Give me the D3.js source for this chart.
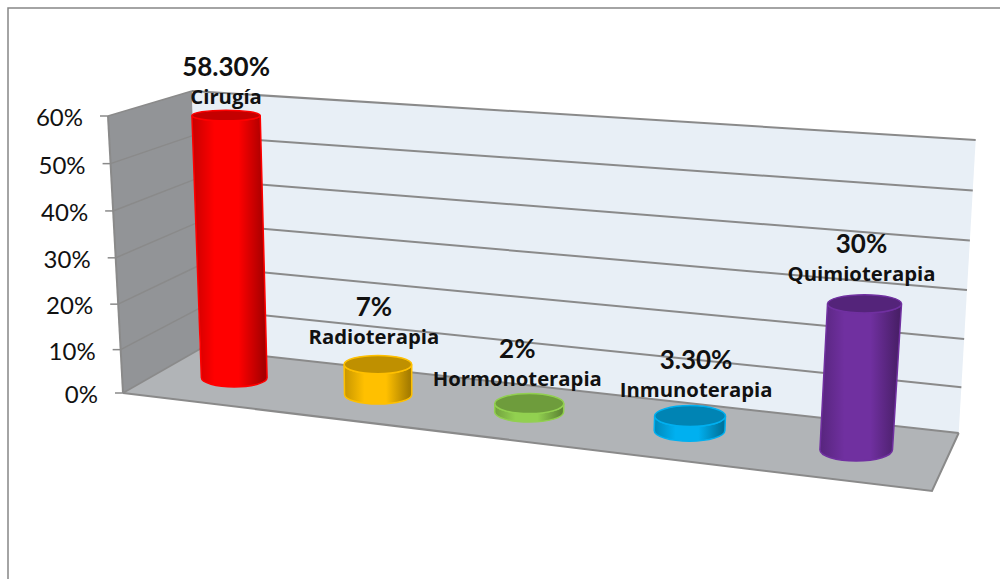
<!DOCTYPE html>
<html>
<head>
<meta charset="utf-8">
<script src="https://cdn.jsdelivr.net/npm/d3@7/dist/d3.min.js"></script>
<style>
  html, body { margin: 0; padding: 0; background: #fff; }
  svg { display: block; }
  text { fill: #111; }
  .tick-label { font: 24px "Lato", sans-serif; }
  .pct { font: 700 26px "Lato", sans-serif; }
  .name { font: 700 20.3px "Open Sans", sans-serif; }
</style>
</head>
<body>
<svg id="chart" width="1000" height="579"></svg>
<script>
// Tratamientos del cáncer: share of patients per therapy
const categories = ["Cirugía", "Radioterapia", "Hormonoterapia", "Inmunoterapia", "Quimioterapia"];
const values = [58.3, 7, 2, 3.3, 30];
const valueLabels = ["58.30%", "7%", "2%", "3.30%", "30%"];
const yTicks = [0, 10, 20, 30, 40, 50, 60];

const bodyColors = ["#ff0000", "#ffc000", "#92d050", "#00b0f0", "#7030a0"];
const capColors = ["#c40000", "#bf9000", "#6e9c3c", "#0084b4", "#54247a"];

// Box corners of the 3D plot, in screen pixels
const corners = {
  frontBottomLeft: [123, 393], frontTopLeft: [108, 116],
  backBottomLeft: [200, 349], backTopLeft: [192, 91],
  backBottomRight: [958.7, 433], backTopRight: [975.7, 140],
  frontBottomRight: [932, 491], frontTopRight: [957, 176]
};

// The slight power curve spreads the upper gridlines, as perspective does
const vScale = d3.scalePow().exponent(1.035).domain([0, 60]).range([0, 1]);
// Foreshortened slots along the floor, one per category
const uScale = d3.scaleLinear().domain([0, 1, 2, 3, 4]).range([0.09, 0.274, 0.467, 0.672, 0.885]);
const radiusScale = d3.scaleLinear().domain([0, 1]).range([0.0415, 0.047]);
const barDepth = 0.53;
const depthRadius = 0.2;

const lerp = (a, b, t) => [a[0] + (b[0] - a[0]) * t, a[1] + (b[1] - a[1]) * t];

// u: left to right, value: height axis, d: front to back
function project(u, value, d) {
  const v = vScale(value);
  const c = corners;
  const frontBottom = lerp(c.frontBottomLeft, c.frontBottomRight, u);
  const frontTop = lerp(c.frontTopLeft, c.frontTopRight, u);
  const backBottom = lerp(c.backBottomLeft, c.backBottomRight, u);
  const backTop = lerp(c.backTopLeft, c.backTopRight, u);
  return lerp(lerp(frontBottom, backBottom, d), lerp(frontTop, backTop, d), v);
}

const svg = d3.select("#chart");
const line = d3.line();
const gridColor = "#8a8a8a";

// Outer frame
svg.append("path")
  .attr("d", line([[8, 579], [8, 8], [1000, 8]]))
  .attr("fill", "none").attr("stroke", "#868686").attr("stroke-width", 1.5);

// Side wall, back wall, floor
const polys = [
  { pts: [[0, 0, 0], [0, 60, 0], [0, 60, 1], [0, 0, 1]], fill: "#929497" },
  { pts: [[0, 0, 1], [0, 60, 1], [1, 60, 1], [1, 0, 1]], fill: "#e8eff6" },
  { pts: [[0, 0, 0], [0, 0, 1], [1, 0, 1], [1, 0, 0]], fill: "#b1b4b7" }
];
svg.append("g").selectAll("path").data(polys).join("path")
  .attr("d", p => line(p.pts.map(q => project(...q))) + "Z")
  .attr("fill", p => p.fill);

// Gridlines run along the side wall and then across the back wall
const grid = svg.append("g").attr("fill", "none").attr("stroke", gridColor);
yTicks.forEach(t => {
  grid.append("path").attr("stroke-width", 1.5)
    .attr("d", line([project(0, t, 0), project(0, t, 1)]));
  grid.append("path").attr("stroke-width", 2)
    .attr("d", line([project(0, t, 1), project(1, t, 1)]));
  const p = project(0, t, 0);
  grid.append("path").attr("stroke-width", 1.5)
    .attr("d", line([[p[0] - 8, p[1]], p]));
});

// Floor outline and the front edge of the side wall
grid.append("path").attr("stroke-width", 2)
  .attr("d", line([project(0, 0, 0), project(1, 0, 0), project(1, 0, 1)]));
grid.append("path").attr("stroke-width", 2)
  .attr("d", line([project(0, 60, 0), project(0, 0, 0)]));

// Axis labels
svg.append("g").selectAll("text").data(yTicks).join("text")
  .attr("class", "tick-label")
  .attr("text-anchor", "end")
  .attr("x", t => project(0, t, 0)[0] - 25)
  .attr("y", t => project(0, t, 0)[1] + 10)
  .text(t => t + "%");

// Horizontal shading of each cylinder body
const defs = svg.append("defs");
bodyColors.forEach((col, i) => {
  const g = defs.append("linearGradient").attr("id", "body" + i);
  const left = d3.color(col).darker(0.7);
  const right = d3.color(col).darker(1.2);
  [[0, left], [0.3, col], [0.62, col], [0.96, right], [1, right]].forEach(([o, c]) => {
    g.append("stop").attr("offset", o).attr("stop-color", c);
  });
});

// Cylinders
const bars = svg.append("g").selectAll("g").data(values).join("g");
bars.each(function (val, i) {
  const u = uScale(i);
  const r = radiusScale(u);
  const base = project(u, 0, barDepth);
  const top = project(u, val, barDepth);
  const baseRx = (project(u + r, 0, barDepth)[0] - project(u - r, 0, barDepth)[0]) / 2;
  const topRx = (project(u + r, val, barDepth)[0] - project(u - r, val, barDepth)[0]) / 2;
  const baseRy = (project(u, 0, barDepth - depthRadius)[1] - project(u, 0, barDepth + depthRadius)[1]) / 2;
  const topRy = (project(u, val, barDepth - depthRadius)[1] - project(u, val, barDepth + depthRadius)[1]) / 2;
  const g = d3.select(this);
  g.append("path")
    .attr("d", `M${top[0] - topRx},${top[1]} L${base[0] - baseRx},${base[1]}
      A${baseRx},${baseRy} 0 0 0 ${base[0] + baseRx},${base[1]}
      L${top[0] + topRx},${top[1]}
      A${topRx},${topRy} 0 0 1 ${top[0] - topRx},${top[1]} Z`)
    .attr("fill", `url(#body${i})`)
    .attr("stroke", bodyColors[i]).attr("stroke-width", 1.5);
  g.append("ellipse")
    .attr("cx", top[0]).attr("cy", top[1]).attr("rx", topRx).attr("ry", topRy)
    .attr("fill", capColors[i])
    .attr("stroke", bodyColors[i]).attr("stroke-width", 1.5);
});

// Value and category labels sit above each cylinder
const labelShift = [[0, 10], [-4, 1], [-12, 4], [6, 3], [-3, -1]];
const labels = svg.append("g").selectAll("g").data(values).join("g")
  .attr("transform", (val, i) => {
    const p = project(uScale(i), val, barDepth);
    return `translate(${p[0] + labelShift[i][0]},${p[1] + labelShift[i][1]})`;
  });
labels.append("text").attr("class", "pct").attr("text-anchor", "middle").attr("y", -50)
  .text((d, i) => valueLabels[i]);
labels.append("text").attr("class", "name").attr("text-anchor", "middle").attr("y", -22)
  .text((d, i) => categories[i]);
</script>
</body>
</html>
